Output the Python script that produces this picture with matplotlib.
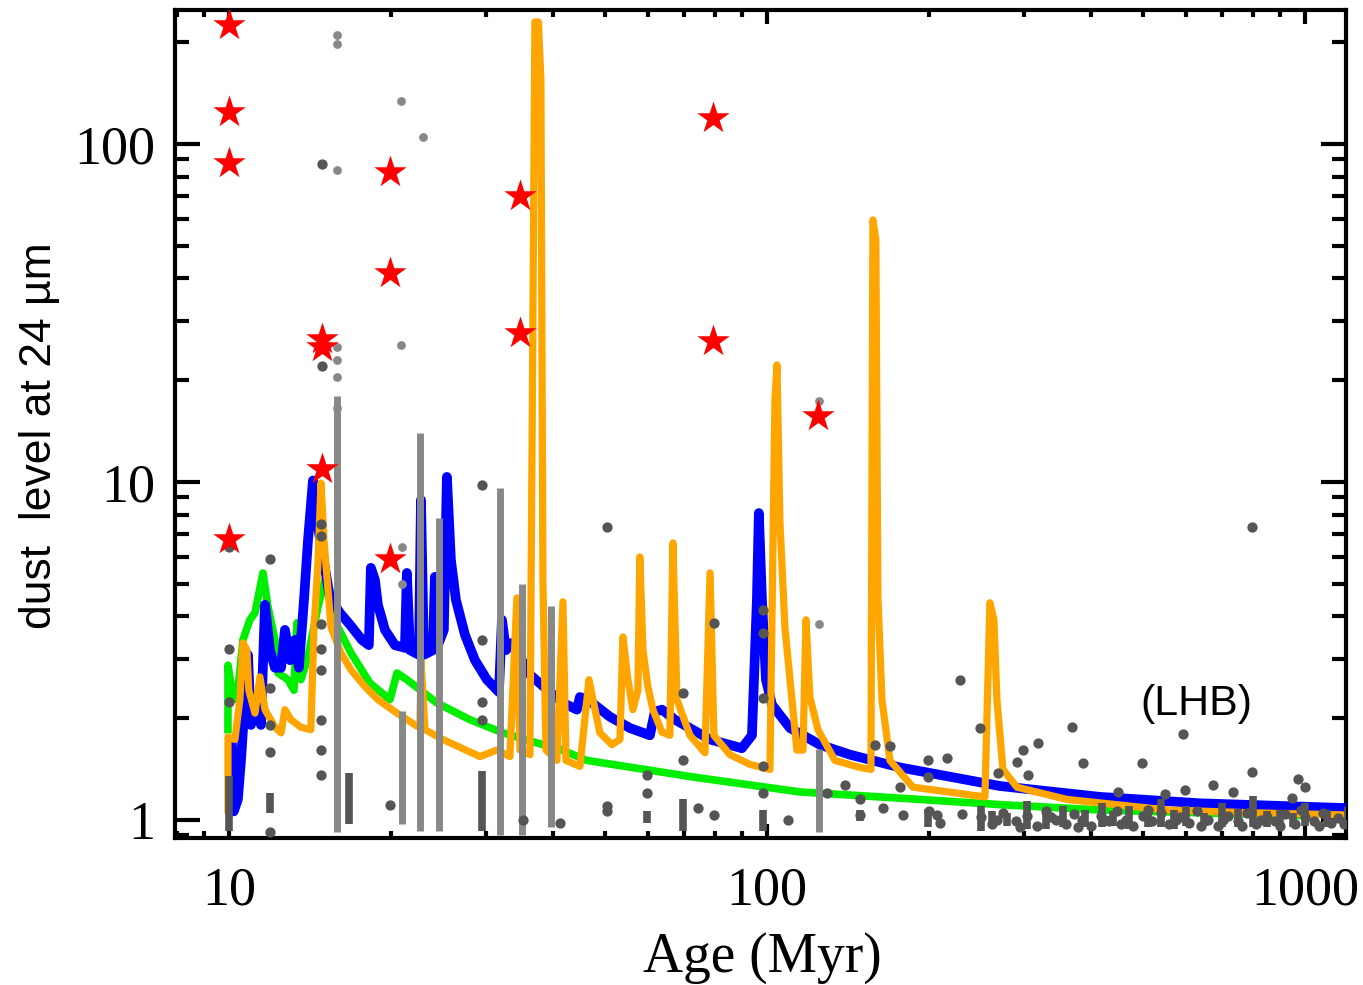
import matplotlib
matplotlib.use("Agg")
import matplotlib.pyplot as plt
from matplotlib.ticker import LogLocator, NullFormatter, FixedLocator, FixedFormatter

# model curves: (age in Myr, dust level at 24 um)
blue = [(10.13, 1.67), (10.21, 1.06), (10.39, 1.15), (10.53, 1.5), (10.71, 2.27),
        (10.85, 3.08), (10.99, 1.91), (11.23, 2.27), (11.47, 1.91), (11.67, 4.33),
        (11.92, 3.18), (12.18, 2.82), (12.5, 2.82), (12.71, 3.65), (12.99, 2.97),
        (13.27, 3.41), (13.49, 2.82), (13.79, 4.48), (14.03, 6.74), (14.33, 10.1),
        (14.57, 7.72), (14.89, 6.29), (15.41, 4.54), (16.08, 4.1), (16.79, 3.78),
        (17.67, 3.41), (18.2, 3.29), (18.36, 5.57), (18.68, 5.13), (18.92, 4.33),
        (19.5, 3.65), (20.35, 3.29), (21.24, 3.23), (21.42, 5.38), (21.7, 3.18),
        (22.55, 3.08), (22.75, 8.85), (23.04, 3.08), (23.94, 3.18), (24.15, 5.24),
        (24.46, 3.29), (25.09, 3.65), (25.42, 10.35), (25.86, 5.88), (26.42, 4.48),
        (27.46, 3.53), (28.66, 2.97), (30.17, 2.6), (31.76, 2.39), (32.17, 3.91),
        (32.73, 3.18), (33.57, 3.34), (36.27, 2.69), (38.68, 2.46), (41.77, 2.22),
        (44.36, 2.12), (44.92, 2.31), (46.49, 2.27), (51.07, 2.02), (55.65, 1.87),
        (60.6, 1.78), (61.9, 2.09), (63.8, 2.12), (67.45, 1.98), (78.4, 1.73),
        (89.85, 1.63), (93.8, 1.78), (95.8, 4.48), (96.6, 8.09), (97.9, 4.48),
        (99.6, 2.6), (102.2, 2.19), (110.4, 1.87), (125.4, 1.67), (142.7, 1.56),
        (176.7, 1.43), (271.1, 1.26), (415.9, 1.17), (638, 1.12), (1174, 1.085)]

green = [(9.96, 1.85), (9.96, 2.87), (10.13, 2.42), (10.35, 2.27), (10.62, 3.41),
         (10.94, 3.91), (11.18, 4.1), (11.57, 5.38), (11.82, 4.27), (12.18, 3.41),
         (12.34, 2.72), (12.87, 2.6), (13.21, 2.42), (13.38, 3.83), (13.61, 2.6),
         (14.03, 3.04), (14.64, 4.27), (15.08, 5.13), (15.34, 4.86), (15.94, 3.72),
         (16.86, 3.12), (18.29, 2.54), (19.92, 2.27), (20.53, 2.72), (21.42, 2.6),
         (24.35, 2.22), (28.05, 1.98), (32.31, 1.81), (37.36, 1.69), (41.23, 1.62),
         (46.28, 1.5), (72.86, 1.34), (115.2, 1.21), (176.7, 1.16), (271.1, 1.11),
         (415.9, 1.07), (638, 1.05), (978.8, 1.03)]

orange = [(9.96, 1.07), (9.96, 1.76), (10.26, 1.73), (10.48, 2.27), (10.62, 3.34),
          (10.8, 3.18), (10.89, 2.42), (11.18, 2.07), (11.42, 2.65), (11.67, 2.12),
          (12.18, 1.88), (12.5, 1.81), (12.71, 2.12), (13.04, 1.98), (13.61, 1.88),
          (14.2, 1.85), (14.39, 3.65), (14.64, 5.76), (14.83, 9.93), (15.02, 6.74),
          (15.48, 3.72), (16.15, 3.12), (16.86, 2.78), (17.9, 2.48), (18.92, 2.27),
          (20.53, 2.07), (22.65, 1.87), (22.75, 2.97), (23.14, 1.85), (24.99, 1.73),
          (29.28, 1.54), (31.48, 1.61), (33.29, 1.54), (34.3, 4.54), (34.75, 1.61),
          (36.27, 1.56), (37.05, 229.6), (37.6, 229.6), (38.01, 154.6), (38.34, 5.13),
          (38.84, 1.61), (40.71, 1.5), (41.77, 4.42), (42.31, 1.5), (43.6, 1.47),
          (44.92, 1.44), (46.69, 2.6), (47.5, 2.27), (48.93, 1.81), (51.52, 1.67),
          (53.31, 1.73), (54.0, 3.48), (55.16, 2.6), (56.35, 2.12), (57.57, 2.42),
          (58.05, 6.0), (58.83, 3.18), (60.08, 2.48), (61.39, 2.12), (63.8, 1.82),
          (66.01, 1.78), (66.88, 6.6), (68.04, 2.27), (71.93, 1.78), (76.7, 1.58),
          (78.4, 5.38), (79.7, 1.78), (85.37, 1.56), (92.98, 1.46), (101.3, 1.41),
          (103.5, 17.5), (104.4, 22.2), (105.7, 7.72), (108.0, 3.72), (111.3, 2.27),
          (113.7, 1.61), (116.7, 1.61), (118.2, 3.91), (120.2, 2.31), (124.4, 1.85),
          (133.8, 1.5), (148.9, 1.43), (156.1, 1.41), (157.4, 59.6), (159.4, 52.0),
          (160.8, 4.57), (163.6, 2.27), (169.3, 1.5), (186.8, 1.25), (254.2, 1.17),
          (259.7, 4.39), (264.2, 3.91), (267.6, 2.27), (274.6, 1.41), (291.5, 1.25),
          (361.1, 1.15), (554.0, 1.07), (790.6, 1.05), (1174, 1.035)]

# observed stars
dark_age = [14.9, 14.9, 10, 11.9, 10, 10, 11.9, 11.9, 11.9, 14.8, 14.8, 14.8, 14.8,
            14.8, 14.8, 14.8, 14.8, 29.5, 29.5, 29.5, 29.5, 50.5, 79.6, 69.8, 69.8,
            59.8, 59.8, 50.5, 74.4, 79.6, 98.3, 98.3, 98.3, 98.3, 98.3, 109.4, 41.2,
            19.9, 11.9, 129.3, 139.6, 148.9, 148.9, 176.7, 199.2, 199.2, 216, 164.3,
            178.9, 207, 158.8, 169.3, 248.8, 228.4, 291.5, 268.8, 299, 305.5, 319,
            368.9, 386.7, 497.7, 593.3, 797.2, 674.5, 734.8, 970.6, 1000, 945.9,
            549.4, 598.4, 449.2, 797.2, 50.5, 35.2]
dark_level = [87, 22, 6.4, 5.9, 3.2, 2.23, 2.46, 1.91, 1.59, 7.5, 6.9, 3.8, 3.2,
              2.78, 1.98, 1.61, 1.36, 9.8, 3.4, 2.23, 1.98, 7.36, 3.83, 2.38, 1.5,
              1.36, 1.2, 1.06, 1.085, 1.035, 4.18, 3.57, 2.3, 1.44, 1.2, 1.0, 0.98,
              1.11, 0.92, 1.2, 1.27, 1.15, 1.035, 1.25, 1.5, 1.34, 1.53, 1.085,
              1.035, 1.035, 1.67, 1.65, 1.87, 2.6, 1.48, 1.38, 1.61, 1.36, 1.69,
              1.88, 1.47, 1.47, 1.8, 1.39, 1.27, 1.21, 1.32, 1.25, 1.16,
              1.19, 1.23, 1.21, 7.36, 1.1, 1.0]

# crowded old stars near level 1
band_age = [200, 210, 230, 250, 262, 275, 290, 305, 318, 330, 345, 360, 372, 385,
            400, 418, 432, 448, 465, 480, 500, 520, 540, 560, 585, 610, 630, 660,
            690, 720, 750, 780, 810, 850, 880, 920, 960, 1000, 1040, 1080, 1120,
            1150, 1230, 1260, 268, 296, 338, 378, 425, 456, 510, 575, 640, 705,
            765, 830, 900, 985, 1060, 1180, 1300]
band_level = [1.06, 0.98, 1.04, 1.02, 0.97, 1.05, 0.99, 1.03, 0.96, 1.06, 1.0, 0.97,
              1.04, 1.0, 0.96, 1.03, 0.99, 1.06, 1.0, 0.96, 1.03, 0.99, 1.05, 0.97,
              1.02, 0.98, 1.06, 1.0, 0.96, 1.03, 0.99, 1.05, 0.97, 1.02, 0.99, 1.04,
              0.97, 1.02, 0.99, 1.05, 0.98, 1.01, 1.0, 1.04, 1.0, 0.95, 1.02, 0.95,
              1.0, 0.97, 1.07, 1.0, 0.96, 1.0, 0.96, 1.0, 0.96, 1.07, 0.96, 0.97, 1.0]

# stacked samples drawn as columns: age, lowest, highest level
dark_col_age = [10, 11.9, 16.7, 29.5, 59.8, 69.8, 98.3, 148.9, 199.2, 250, 305,
                355, 420, 470, 540, 600, 700, 800, 1000, 1290, 262, 280, 330, 390,
                440, 510, 570, 650, 750, 850, 900, 950, 1100, 1200, 1250]
dark_col_lo = [0.93, 1.05, 0.97, 0.93, 0.98, 0.93, 0.93, 0.99, 0.95, 0.93, 0.94,
               0.95, 0.95, 0.94, 0.95, 0.96, 0.95, 0.95, 0.96, 0.95, 0.95, 0.96,
               0.94, 0.95, 0.96, 0.95, 0.94, 0.96, 0.95, 0.95, 0.96, 0.95, 0.95,
               0.96, 0.95]
dark_col_hi = [1.35, 1.2, 1.38, 1.4, 1.06, 1.15, 1.07, 1.07, 1.08, 1.1, 1.14,
               1.1, 1.12, 1.1, 1.15, 1.1, 1.12, 1.18, 1.12, 1.1, 1.06, 1.05,
               1.08, 1.07, 1.06, 1.09, 1.07, 1.05, 1.08, 1.06, 1.07, 1.05, 1.07,
               1.09, 1.06]

light_col_age = [15.9, 21.0, 22.7, 24.6, 31.9, 35.0, 39.7, 125]
light_col_lo = [0.92, 0.97, 0.93, 0.93, 0.9, 0.9, 0.95, 0.92]
light_col_hi = [18, 2.1, 14, 7.8, 9.6, 5.0, 4.3, 1.62]

light_age = [15.9, 15.9, 15.9, 15.9, 15.9, 15.9, 15.9, 20.9, 20.9, 22.9, 21.0, 21.0,
             125, 125]
light_level = [210, 198, 84, 23, 20.5, 25, 16.5, 134, 25.4, 105, 6.4, 5.0, 3.8, 17.4]

star_age = [10, 10, 10, 10, 14.9, 14.9, 14.9, 19.9, 19.9, 19.9, 34.8, 34.8, 79.4,
            79.4, 124.5]
star_level = [225, 124, 88, 6.8, 26.5, 25, 10.9, 82.6, 41.5, 5.9, 70, 27.6, 119,
              26.1, 15.7]

fig = plt.figure(figsize=(13.63, 9.85), dpi=100)
ax = fig.add_axes([0.1284, 0.1492, 0.8591, 0.8406])
ax.set_xscale("log")
ax.set_yscale("log")

ax.plot(*zip(*green), color="#00ee00", lw=5.5, zorder=2)
ax.plot(*zip(*blue), color="#0000ff", lw=7, zorder=3)
ax.plot(*zip(*orange), color="#ffa500", lw=5.2, zorder=4)

ax.vlines(light_col_age, light_col_lo, light_col_hi, color="#888888", lw=5, zorder=5)
ax.vlines(dark_col_age, dark_col_lo, dark_col_hi, color="#555555", lw=5.5, zorder=5)
ax.scatter(light_age, light_level, s=40, color="#888888", lw=0, zorder=5)
ax.scatter(dark_age, dark_level, s=55, color="#555555", lw=0, zorder=6)
ax.scatter(band_age, band_level, s=55, color="#555555", lw=0, zorder=6)
ax.scatter(star_age, star_level, marker="*", s=600, color="#ff0000", lw=0, zorder=7)

ax.set_xlim(7.94, 1192)
ax.set_ylim(0.884, 249)

serif = "Liberation Serif"
ax.xaxis.set_major_locator(FixedLocator([10, 100, 1000]))
ax.xaxis.set_major_formatter(FixedFormatter(["10", "100", "1000"]))
ax.yaxis.set_major_locator(FixedLocator([1, 10, 100]))
ax.yaxis.set_major_formatter(FixedFormatter(["1", "10", "100"]))
ax.xaxis.set_minor_locator(LogLocator(base=10, subs=range(2, 10)))
ax.yaxis.set_minor_locator(LogLocator(base=10, subs=range(2, 10)))
ax.xaxis.set_minor_formatter(NullFormatter())
ax.yaxis.set_minor_formatter(NullFormatter())

ax.tick_params(which="both", direction="in", top=True, right=True, width=3)
ax.tick_params(axis="y", which="major", length=18, pad=14)
ax.tick_params(axis="y", which="minor", length=10)
ax.tick_params(axis="x", which="major", length=10, pad=20)
ax.tick_params(axis="x", which="minor", length=5)
for lab in ax.get_xticklabels() + ax.get_yticklabels():
    lab.set_fontfamily(serif)
    lab.set_fontsize(39)
for sp in ax.spines.values():
    sp.set_linewidth(3)

ax.text(629, 2.2, "(LHB)", fontsize=31, family="Liberation Sans",
        ha="center", va="center")
fig.text(0.559, 0.027, "Age (Myr)", fontsize=40, family=serif,
         ha="center", va="center")
fig.text(0.0293, 0.558, "dust  level at 24 µm", fontsize=32,
         family="Liberation Sans", rotation=90, ha="center", va="center")

fig.savefig("out.png", dpi=100)
